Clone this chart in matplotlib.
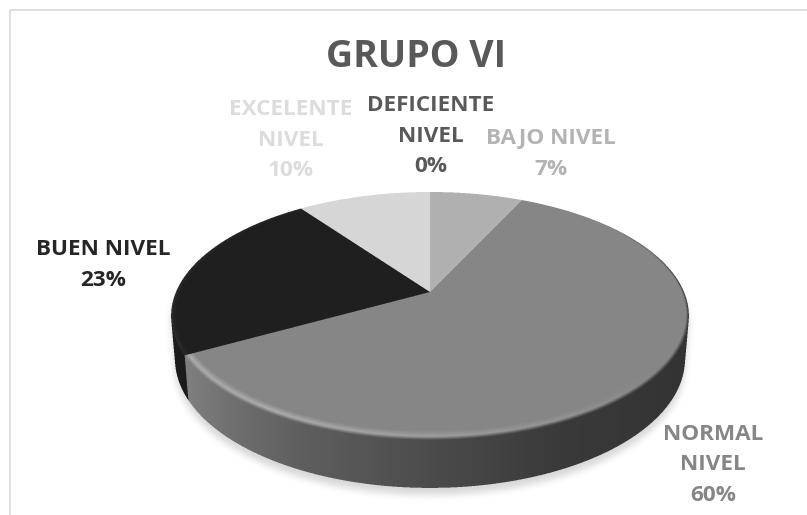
import matplotlib
matplotlib.use('Agg')
import matplotlib.pyplot as plt
import numpy as np

plt.rcParams['font.family'] = ['Open Sans', 'DejaVu Sans']

title = 'GRUPO VI'
categorias = ['DEFICIENTE\nNIVEL', 'BAJO NIVEL', 'NORMAL\nNIVEL', 'BUEN NIVEL', 'EXCELENTE\nNIVEL']
valores = [0, 7, 60, 23, 10]
grises = [89, 176, 134, 31, 214]   # slice grey levels
text_col = ['#595959', '#b3b3b3', '#868686', '#262626', '#dcdcdc']
# label centres, pixels
lab_x = [431, 551, 713, 103, 291]
lab_y = [136, 154, 465, 265, 140]

W, H = 807, 515
fig = plt.figure(figsize=(W / 100, H / 100), dpi=100)
ax = fig.add_axes([0, 0, 1, 1])

# perspective disc, circle -> picture, inverted per pixel
cx, cy, B, A, k = 430, 292, 254, 119.35, 0.1935
def to_disc(X, Y):
    w = (X - cx) / B
    z = (cy - Y) / A
    d = 1 / (1 - k * z)
    u = w * d
    v = z * d
    return np.hypot(u, v), np.mod(np.arctan2(u, v), 2 * np.pi), v

ang = np.cumsum([0] + valores) / sum(valores) * 2 * np.pi
def slice_of(th):
    return np.clip(np.searchsorted(ang, th, side='right') - 1, 0, len(valores) - 1)

SS = 3
x0, x1, y0, y1 = 130, 730, 170, 515
xs = x0 + (np.arange((x1 - x0) * SS) + 0.5) / SS
ys = y0 + (np.arange((y1 - y0) * SS) + 0.5) / SS
X, Y = np.meshgrid(xs, ys)
gris = np.array(grises, dtype=float)

wall_x = [185, 230, 300, 400, 470, 560, 640, 700]
wall_v = [128, 112, 95, 80, 70, 58, 54, 50]
wall_shade = np.interp(X, wall_x, wall_v)

G = np.full(X.shape, 255.0)
M = np.zeros(X.shape, dtype=bool)

# side wall: stack of discs from the bottom up
for t in np.linspace(1, 0.01, 110):
    r, th, v = to_disc(430 + (X - 430) / (1 - 0.015 * t), 292 + (Y - 292 - 42 * t) / (1 + 0.04 * t))
    inside = r <= 1
    s = slice_of(th)
    G[inside] = np.where(s[inside] == 2, wall_shade[inside], 27.0)
    M |= inside

# top face with bevel
r, th, v = to_disc(X, Y)
s = slice_of(th)
top = r <= 1
G[top] = gris[s[top]]
M |= top

# bevel of the big slice only
deg = np.degrees(th)
width = 0.022 + 0.03 * np.clip(-v, 0, 1)
t = np.clip((1 - r) / width, 0, 1)
lit = np.clip((deg - 125) / 85, 0, 1)
high = 134 + 38 * lit
rim = np.where(t < 0.4, wall_shade + (high - wall_shade) * t / 0.4,
               high + (134 - high) * (t - 0.4) / 0.6)
fade = np.clip((deg - 45) / 35, 0, 1)
rim = 134 + (rim - 134) * fade
big = top & (s == 2)
G[big] = rim[big]
# black slice has a faint lighter edge
neg = top & (s == 3)
G[neg] = 31 + 12 * np.clip(1 - (1 - r[neg]) / 0.02, 0, 1)

def blur(a, n):
    kern = np.ones(n) / n
    for _ in range(3):
        a = np.apply_along_axis(np.convolve, 0, a, kern, mode='same')
        a = np.apply_along_axis(np.convolve, 1, a, kern, mode='same')
    return a

def down(a):
    h, w = a.shape
    return a.reshape(h // SS, SS, w // SS, SS).mean(axis=(1, 3))

mask = down(M.astype(float))
pix = down(G * M) / np.maximum(mask, 1e-6)

# soft shadow
sh = np.roll(mask, 7, axis=0)
sh[:7] = 0
sh = blur(sh, 7) * 0.16

alpha = mask + sh * (1 - mask)
rgb = (pix * mask) / np.maximum(alpha, 1e-6) / 255
rgba = np.dstack([rgb, rgb, rgb, alpha])
ax.imshow(rgba, extent=[x0, x1, y1, y0], interpolation='nearest', aspect='auto', zorder=3)

ax.set_xlim(0, W)
ax.set_ylim(H, 0)
ax.axis('off')

# frame
ax.plot([9.5, 9.5, W], [H, 9.5, 9.5], color='#d9d9d9', lw=1.2, zorder=1)

# text
ax.text(416, 57, title, color='#595959', fontsize=27, fontweight='bold', ha='center', va='center', zorder=8)
for i in range(len(valores)):
    ax.text(lab_x[i], lab_y[i], '%s\n%d%%' % (categorias[i], valores[i]), color=text_col[i],
            fontsize=16.2, fontweight='bold', ha='center', va='center', linespacing=1.6, zorder=8)

fig.savefig('out.png', dpi=100)
